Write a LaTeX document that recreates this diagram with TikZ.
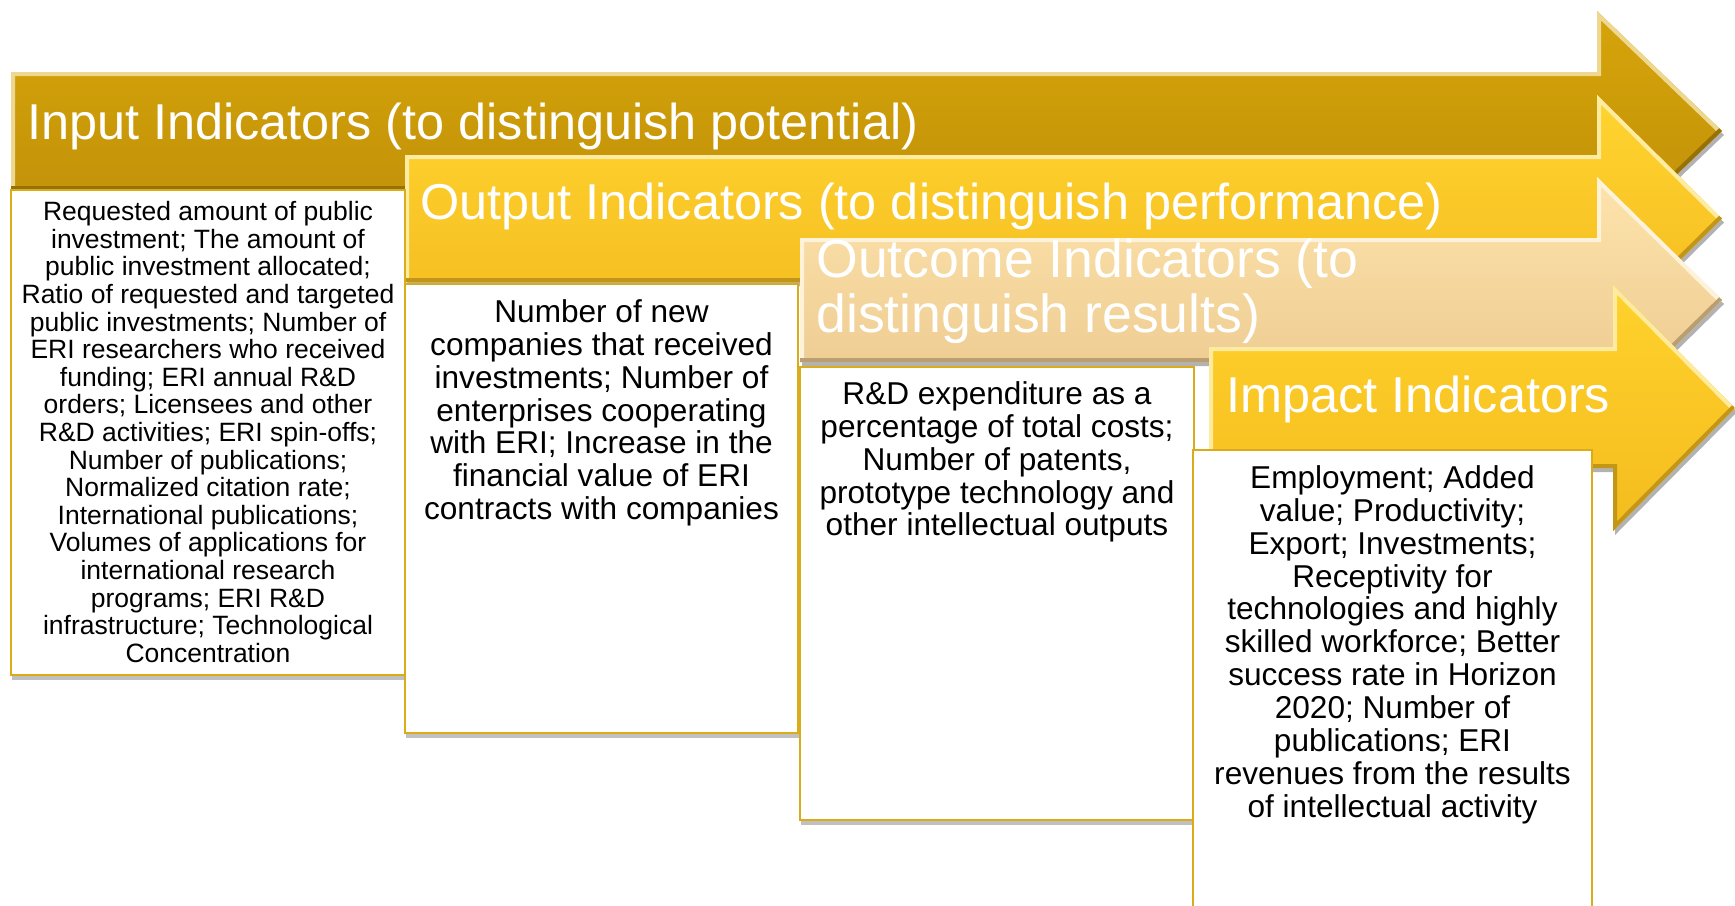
\documentclass[tikz,border=0pt]{standalone}
\usepackage{fontspec}
\setmainfont{Liberation Sans}
\usetikzlibrary{shadows}

\definecolor{inTop}{RGB}{214,165,10}
\definecolor{inBot}{RGB}{190,141,8}
\definecolor{outTop}{RGB}{255,212,48}
\definecolor{outBot}{RGB}{243,186,30}
\definecolor{ocTop}{RGB}{253,228,172}
\definecolor{ocBot}{RGB}{234,198,140}
\definecolor{impTop}{RGB}{255,210,44}
\definecolor{impBot}{RGB}{244,188,30}
\definecolor{cardGold}{RGB}{218,172,26}

\begin{document}
\begin{tikzpicture}[x=0.5pt, y=-0.5pt,
    bevel/.style={line width=4pt, line join=miter},
    arrowshadow/.style={drop shadow={shadow xshift=1pt, shadow yshift=-2pt, opacity=0.3, fill=black}},
    card/.style={fill=white, draw=cardGold, line width=1.4pt,
      drop shadow={shadow xshift=0.5pt, shadow yshift=-2.5pt, opacity=0.35, fill=black!70}},
    title/.style={text=white, inner sep=0pt, font=\fontsize{25.2}{26.65}\selectfont},
    smalltxt/.style={inner sep=0pt, align=center, font=\fontsize{13.25}{13.8}\selectfont},
    bigtxt/.style={inner sep=0pt, align=center, font=\fontsize{15.8}{16.45}\selectfont}]
  % 1 unit = 1 px, y downwards
  \useasboundingbox (0,0) rectangle (1735,905);
  \clip (0,0) rectangle (1735,905);
  \fill[white] (0,0) rectangle (1735,905);

  % arrows: body xl..xh / yt..yb, head htop..hbot up to tip xt
  \foreach \xl/\yt/\yb/\xh/\htop/\hbot/\xt/\ctop/\cbot in {
      11/72/190/1597/11/251/1722/inTop/inBot,
      405/155/282/1597/95/342/1722/outTop/outBot,
      800/238/362/1597/177/423/1722/ocTop/ocBot,
      1209/347/468/1613/285/531/1735/impTop/impBot}{
    \pgfmathsetmacro{\yc}{(\htop+\hbot)/2}
    \path[arrowshadow, top color=\ctop, bottom color=\cbot]
      (\xl,\yt) -- (\xh,\yt) -- (\xh,\htop) -- (\xt,\yc) -- (\xh,\hbot) -- (\xh,\yb) -- (\xl,\yb) -- cycle;
    \begin{scope}
      \clip (\xl,\yt) -- (\xh,\yt) -- (\xh,\htop) -- (\xt,\yc) -- (\xh,\hbot) -- (\xh,\yb) -- (\xl,\yb) -- cycle;
      \draw[bevel, draw=\ctop!45!white] (\xl,\yb) -- (\xl,\yt) -- (\xh,\yt) -- (\xh,\htop) -- (\xt,\yc);
      \draw[bevel, draw=\cbot!80!black] (\xt,\yc) -- (\xh,\hbot) -- (\xh,\yb) -- (\xl,\yb);
    \end{scope}
  }

  % white cards under each arrow
  \foreach \xa/\ya/\xb/\yb in {11/190/405/675, 405/284/798/733, 800/367/1194/820, 1193/450/1592/930}
    \path[card] (\xa,\ya) rectangle (\xb,\yb);

  % titles
  \node[title, anchor=base west] (inTitle) at (27,139) {Input Indicators (to distinguish potential)};
  \node[title, anchor=base west] (outTitle) at (420,219) {Output Indicators (to distinguish performance)};
  \node[title, anchor=north west, align=left, font=\fontsize{26.8}{27.6}\selectfont]
    (ocTitle) at (816,238) {Outcome Indicators (to\\distinguish results)};
  \node[title, anchor=base west] (impTitle) at (1226,412) {Impact Indicators};

  % card texts
  \node[smalltxt, anchor=north] (inText) at (208,201) {Requested amount of public\\
    investment; The amount of\\ public investment allocated;\\
    Ratio of requested and targeted\\ public investments; Number of\\
    ERI researchers who received\\ funding; ERI annual R\&D\\
    orders; Licensees and other\\ R\&D activities; ERI spin-offs;\\
    Number of publications;\\ Normalized citation rate;\\
    International publications;\\ Volumes of applications for\\
    international research\\ programs; ERI R\&D\\
    infrastructure; Technological\\ Concentration};
  \node[bigtxt, anchor=north] (outText) at (601.5,299) {Number of new\\
    companies that received\\ investments; Number of\\
    enterprises cooperating\\ with ERI; Increase in the\\
    financial value of ERI\\ contracts with companies};
  \node[bigtxt, anchor=north] (ocText) at (997,381) {R\&D expenditure as a\\
    percentage of total costs;\\ Number of patents,\\
    prototype technology and\\ other intellectual outputs};
  \node[bigtxt, anchor=north] (impText) at (1392.5,465) {Employment; Added\\
    value; Productivity;\\ Export; Investments;\\ Receptivity for\\
    technologies and highly\\ skilled workforce; Better\\
    success rate in Horizon\\ 2020; Number of\\ publications; ERI\\
    revenues from the results\\ of intellectual activity};
\end{tikzpicture}
\end{document}
